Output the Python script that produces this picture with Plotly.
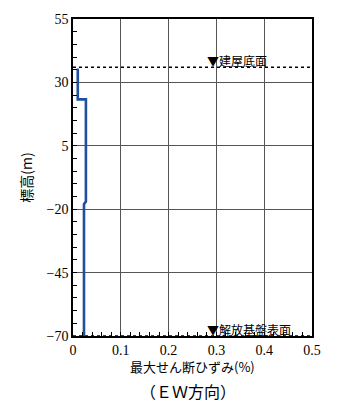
import plotly.graph_objects as go

# Maximum shear strain profile along elevation (EW direction)
elevation = [35.5, 23.3, 23.3, -17.0, -18.0, -70.0]
max_shear_strain = [0.010, 0.010, 0.027, 0.027, 0.023, 0.023]

# Reference levels
building_base_elev = 36.0
bedrock_surface_elev = -70.0
building_base_label = "▼建屋底面"
bedrock_label = "▼解放基盤表面"

x_ticks = [0, 0.1, 0.2, 0.3, 0.4, 0.5]
y_ticks = [-70, -45, -20, 5, 30, 55]

num_font = "Liberation Serif, DejaVu Serif, serif"
jp_font = "Noto Sans CJK JP, sans-serif"

fig = go.Figure()

# Dotted reference lines
for lvl in (building_base_elev, bedrock_surface_elev):
    fig.add_trace(go.Scatter(
        x=[0, 0.5], y=[lvl, lvl], mode="lines",
        line=dict(color="black", width=1.6, dash="dot"),
        hoverinfo="skip", showlegend=False,
    ))

fig.add_trace(go.Scatter(
    x=max_shear_strain, y=elevation, mode="lines",
    line=dict(color="#1f4f9e", width=2.6),
    showlegend=False,
))

fig.add_annotation(x=0.276, y=building_base_elev, text=building_base_label,
                   xref="x", yref="y", xanchor="left", yanchor="bottom",
                   showarrow=False, yshift=-4,
                   font=dict(family=jp_font, size=12, color="black"))
fig.add_annotation(x=0.276, y=bedrock_surface_elev, text=bedrock_label,
                   xref="x", yref="y", xanchor="left", yanchor="bottom",
                   showarrow=False, yshift=-4,
                   font=dict(family=jp_font, size=12, color="black"))

fig.add_annotation(x=0.5, y=-0.06, xref="paper", yref="paper",
                   text="最大せん断ひずみ(%)", showarrow=False,
                   xanchor="center", yanchor="top",
                   font=dict(family=jp_font, size=13, color="black"))
fig.add_annotation(x=0.48, y=-0.128, xref="paper", yref="paper",
                   text="（ＥＷ方向）", showarrow=False,
                   xanchor="center", yanchor="top",
                   font=dict(family=jp_font, size=16, color="black"))

fig.update_xaxes(
    range=[0, 0.5], tickvals=x_ticks, ticktext=[f"{v:g}" for v in x_ticks],
    showgrid=True, gridcolor="#555555", gridwidth=0.8,
    showline=True, linecolor="black", linewidth=1.5, mirror=True,
    ticks="inside", ticklen=0, zeroline=False,
    minor=dict(dtick=0.02, ticks="inside", ticklen=4, tickcolor="black", showgrid=False),
    tickfont=dict(family=num_font, size=14, color="black"),
)
fig.update_yaxes(
    range=[-70, 55], tickvals=y_ticks, ticktext=[f"{v:g}" if v >= 0 else f"−{-v:g}" for v in y_ticks],
    showgrid=True, gridcolor="#555555", gridwidth=0.8,
    showline=True, linecolor="black", linewidth=1.5, mirror=True,
    ticks="inside", ticklen=0, zeroline=False,
    minor=dict(dtick=5, ticks="inside", ticklen=4, tickcolor="black", showgrid=False),
    tickfont=dict(family=num_font, size=14, color="black"),
    title=dict(text="標高(m)", font=dict(family=jp_font, size=14, color="#000000"), standoff=11),
)

fig.update_layout(
    width=341, height=405,
    margin=dict(l=73, r=29, t=13, b=69),
    paper_bgcolor="white", plot_bgcolor="white",
)

fig.write_html("out.html")
